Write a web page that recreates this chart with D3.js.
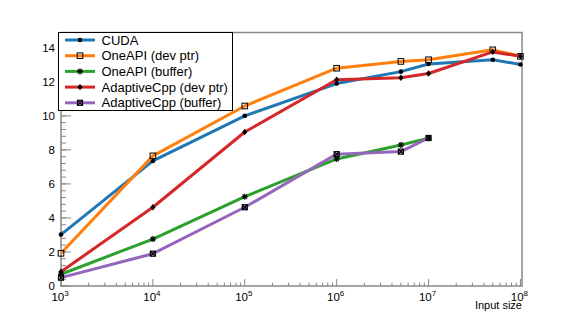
<!DOCTYPE html>
<html>
<head>
<meta charset="utf-8">
<script src="https://cdn.jsdelivr.net/npm/d3@7"></script>
<style>
  body { margin: 0; background: #fff; }
  text { font-family: "Liberation Sans", Arial, sans-serif; }
</style>
</head>
<body>
<svg id="chart" width="581" height="319"></svg>
<script>
// input sizes
const sizes = [1e3, 1e4, 1e5, 1e6, 5e6, 1e7, 5e7, 1e8];

const cuda        = [3.02, 7.35, 10.0, 11.9, 12.6, 13.05, 13.3, 13.02];
const oneapiPtr   = [1.92, 7.65, 10.58, 12.8, 13.2, 13.3, 13.88, 13.5];
const oneapiBuf   = [0.69, 2.76, 5.25, 7.47, 8.29, 8.69];
const acppPtr     = [0.84, 4.63, 9.05, 12.12, 12.24, 12.49, 13.76, 13.5];
const acppBuf     = [0.49, 1.9, 4.63, 7.75, 7.9, 8.7];

const names  = ['CUDA', 'OneAPI (dev ptr)', 'OneAPI (buffer)', 'AdaptiveCpp (dev ptr)', 'AdaptiveCpp (buffer)'];
const colors = ['#1f77b4', '#ff7f0e', '#2ca02c', '#d62728', '#9467bd'];
const markers = ['circle', 'opensquare', 'star', 'diamond', 'xsquare'];
const series = [cuda, oneapiPtr, oneapiBuf, acppPtr, acppBuf];

const xTicks = [1e3, 1e4, 1e5, 1e6, 1e7, 1e8];
const yTicks = [0, 2, 4, 6, 8, 10, 12, 14];

const svg = d3.select('#chart');
const padL = 61, padR = 522, padT = 32.5, padB = 286;

const x = d3.scaleLog().domain([1e3, 1.04e8]).range([padL, padR]);
const y = d3.scaleLinear().domain([0, 14.9]).range([padB, padT]);

const axisColor = '#888';

// frame
svg.append('rect')
  .attr('x', padL).attr('y', padT)
  .attr('width', padR - padL).attr('height', padB - padT)
  .attr('fill', 'none').attr('stroke', axisColor).attr('stroke-width', 1.5);

// y ticks
const yMinor = d3.range(0, 14.9, 0.4);
svg.selectAll('.ymin').data(yMinor).enter().append('line')
  .attr('x1', padL).attr('x2', padL + 5)
  .attr('y1', d => y(d)).attr('y2', d => y(d))
  .attr('stroke', axisColor).attr('stroke-width', 1);
svg.selectAll('.ymaj').data(yTicks).enter().append('line')
  .attr('x1', padL).attr('x2', padL + 10)
  .attr('y1', d => y(d)).attr('y2', d => y(d))
  .attr('stroke', axisColor).attr('stroke-width', 1);
svg.selectAll('.ylab').data(yTicks).enter().append('text')
  .attr('x', padL - 6).attr('y', d => y(d) + 4)
  .attr('text-anchor', 'end').attr('font-size', 11.5)
  .text(d => d);

// x ticks
const xMinor = [];
for (let e = 3; e < 8; e++) for (let m = 2; m <= 9; m++) xMinor.push(m * Math.pow(10, e));
svg.selectAll('.xmin').data(xMinor).enter().append('line')
  .attr('x1', d => x(d)).attr('x2', d => x(d))
  .attr('y1', padB).attr('y2', padB - 3.5)
  .attr('stroke', axisColor).attr('stroke-width', 1);
svg.selectAll('.xmaj').data(xTicks).enter().append('line')
  .attr('x1', d => x(d)).attr('x2', d => x(d))
  .attr('y1', padB).attr('y2', padB - 7)
  .attr('stroke', axisColor).attr('stroke-width', 1);
const xl = svg.selectAll('.xlab').data(xTicks).enter().append('text')
  .attr('x', d => x(d) - 1).attr('y', padB + 15)
  .attr('text-anchor', 'middle').attr('font-size', 11.5);
xl.append('tspan').text('10');
xl.append('tspan').attr('dy', -5).attr('font-size', 8).text(d => Math.round(Math.log10(d)));

svg.append('text')
  .attr('x', padR).attr('y', padB + 23)
  .attr('text-anchor', 'end').attr('font-size', 11)
  .text('Input size');

// markers
function drawMarker(g, type, cx, cy) {
  if (type === 'circle') {
    g.append('circle').attr('cx', cx).attr('cy', cy).attr('r', 2.3).attr('fill', '#000');
  } else if (type === 'opensquare') {
    g.append('rect').attr('x', cx - 2.8).attr('y', cy - 2.8).attr('width', 5.6).attr('height', 5.6)
      .attr('fill', 'none').attr('stroke', '#000').attr('stroke-width', 1);
  } else if (type === 'star') {
    [[-3, 0, 3, 0], [0, -3, 0, 3], [-2.2, -2.2, 2.2, 2.2], [-2.2, 2.2, 2.2, -2.2]].forEach(s => {
      g.append('line').attr('x1', cx + s[0]).attr('y1', cy + s[1]).attr('x2', cx + s[2]).attr('y2', cy + s[3])
        .attr('stroke', '#000').attr('stroke-width', 1.2);
    });
  } else if (type === 'diamond') {
    g.append('path').attr('d', `M${cx},${cy - 3.2}L${cx + 2.6},${cy}L${cx},${cy + 3.2}L${cx - 2.6},${cy}Z`)
      .attr('fill', '#000');
  } else if (type === 'xsquare') {
    g.append('rect').attr('x', cx - 2.5).attr('y', cy - 2.5).attr('width', 5).attr('height', 5)
      .attr('fill', 'none').attr('stroke', '#000').attr('stroke-width', 1.2);
    g.append('path').attr('d', `M${cx - 2.5},${cy - 2.5}L${cx + 2.5},${cy + 2.5}M${cx - 2.5},${cy + 2.5}L${cx + 2.5},${cy - 2.5}`)
      .attr('stroke', '#000').attr('stroke-width', 1.2);
  }
}

const line = d3.line().x(d => x(d[0])).y(d => y(d[1]));

series.forEach((vals, i) => {
  const pts = vals.map((v, j) => [sizes[j], v]);
  const g = svg.append('g');
  g.append('path').datum(pts).attr('d', line)
    .attr('fill', 'none').attr('stroke', colors[i]).attr('stroke-width', 3)
    .attr('stroke-linejoin', 'round');
  pts.forEach(p => drawMarker(g, markers[i], x(p[0]), y(p[1])));
});

// legend
const lg = svg.append('g');
lg.append('rect').attr('x', 58.5).attr('y', 32.5).attr('width', 174).attr('height', 78)
  .attr('fill', '#fff').attr('stroke', '#000').attr('stroke-width', 1);
names.forEach((n, i) => {
  const ly = 40 + i * 15.7;
  lg.append('line').attr('x1', 65).attr('x2', 95).attr('y1', ly).attr('y2', ly)
    .attr('stroke', colors[i]).attr('stroke-width', 3);
  drawMarker(lg, markers[i], 80, ly);
  lg.append('text').attr('x', 101.5).attr('y', ly + 4.5).attr('font-size', 13).text(n);
});
</script>
</body>
</html>
